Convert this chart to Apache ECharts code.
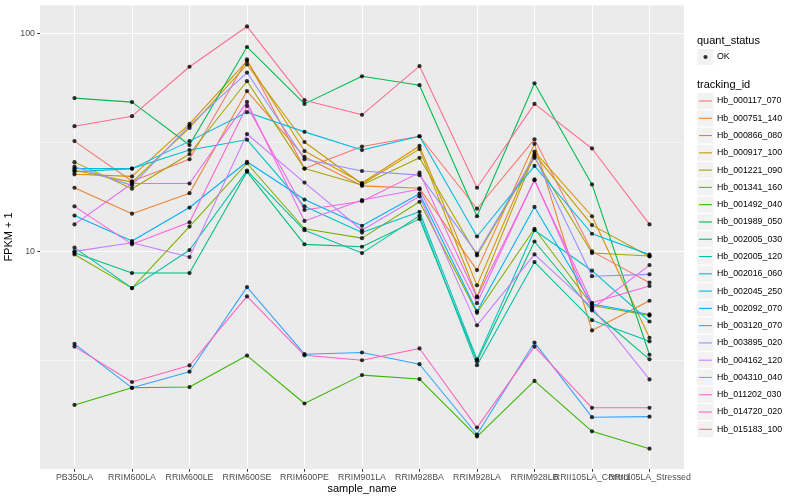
<!DOCTYPE html>
<html><head><meta charset="utf-8">
<script src="https://cdn.jsdelivr.net/npm/echarts@6/dist/echarts.min.js"></script>
<style>html,body{margin:0;padding:0;background:#fff}#c{width:800px;height:500px}</style>
</head><body><div id="c"></div>
<script>
// ---------- data ----------
const categories = ['PB350LA','RRIM600LA','RRIM600LE','RRIM600SE','RRIM600PE','RRIM901LA','RRIM928BA','RRIM928LA','RRIM928LB','RRII105LA_Control','RRII105LA_Stressed'];
const trackingIds = ['Hb_000117_070','Hb_000751_140','Hb_000866_080','Hb_000917_100','Hb_001221_090','Hb_001341_160','Hb_001492_040','Hb_001989_050','Hb_002005_030','Hb_002005_120','Hb_002016_060','Hb_002045_250','Hb_002092_070','Hb_003120_070','Hb_003895_020','Hb_004162_120','Hb_004310_040','Hb_011202_030','Hb_014720_020','Hb_015183_100'];
const Hb_000117_070 = [32.1, 21.0, 26.5, 76.2, 24.0, 30.3, 33.8, 15.7, 32.7, 10.0, 7.18];
const Hb_000751_140 = [19.6, 14.9, 18.5, 54.5, 27.2, 20.0, 19.5, 8.2, 31.2, 4.33, 5.93];
const Hb_000866_080 = [22.6, 22.1, 38.5, 74.9, 28.9, 20.6, 30.5, 6.98, 28.7, 14.5, 4.01];
const Hb_000917_100 = [23.6, 20.8, 36.9, 72.2, 31.8, 20.4, 29.5, 6.2, 27.9, 13.2, 9.48];
const Hb_001221_090 = [25.7, 19.4, 28.0, 60.5, 24.0, 20.2, 26.9, 9.58, 26.9, 9.82, 9.52];
const Hb_001341_160 = [9.68, 6.78, 13.0, 25.4, 12.7, 11.5, 16.9, 5.22, 12.7, 5.64, 5.07];
const Hb_001492_040 = [1.97, 2.36, 2.38, 3.32, 2.0, 2.70, 2.59, 1.41, 2.54, 1.49, 1.24];
const Hb_001989_050 = [50.6, 48.5, 30.8, 86.9, 47.6, 63.7, 58.0, 14.5, 59.2, 20.3, 3.35];
const Hb_002005_030 = [9.86, 7.95, 7.95, 23.2, 10.77, 10.5, 14.1, 3.13, 11.1, 5.35, 3.19];
const Hb_002005_120 = [10.4, 6.78, 10.14, 23.5, 12.5, 9.82, 14.6, 3.0, 8.93, 4.83, 3.86];
const Hb_002016_060 = [23.2, 24.0, 29.2, 32.6, 16.1, 12.2, 15.2, 3.19, 12.5, 8.15, 4.76];
const Hb_002045_250 = [24.0, 24.0, 32.1, 43.6, 35.4, 29.2, 33.8, 11.7, 24.7, 12.05, 9.66];
const Hb_002092_070 = [14.6, 11.15, 15.9, 25.8, 17.3, 13.1, 18.4, 5.31, 16.0, 5.73, 5.13];
const Hb_003120_070 = [3.76, 2.36, 2.80, 6.85, 3.37, 3.43, 3.03, 1.44, 3.81, 1.73, 1.74];
const Hb_003895_020 = [24.5, 20.1, 37.8, 66.3, 26.5, 23.4, 22.4, 9.76, 27.4, 7.69, 7.84];
const Hb_004162_120 = [10.0, 10.96, 9.41, 34.6, 20.7, 12.5, 17.9, 4.57, 9.68, 5.52, 2.58];
const Hb_004310_040 = [13.3, 20.5, 20.5, 48.6, 13.8, 17.2, 19.3, 5.78, 21.4, 5.45, 8.65];
const Hb_011202_030 = [16.1, 10.77, 13.6, 46.6, 15.5, 17.0, 23.0, 6.14, 21.2, 5.8, 6.93];
const Hb_014720_020 = [3.65, 2.51, 2.99, 6.21, 3.33, 3.16, 3.58, 1.55, 3.65, 1.91, 1.91];
const Hb_015183_100 = [37.6, 41.8, 70.5, 108, 49.5, 42.4, 71.0, 19.6, 47.6, 29.7, 13.3];
const seriesValues = [Hb_000117_070,Hb_000751_140,Hb_000866_080,Hb_000917_100,Hb_001221_090,Hb_001341_160,Hb_001492_040,Hb_001989_050,Hb_002005_030,Hb_002005_120,Hb_002016_060,Hb_002045_250,Hb_002092_070,Hb_003120_070,Hb_003895_020,Hb_004162_120,Hb_004310_040,Hb_011202_030,Hb_014720_020,Hb_015183_100];
const yMajorTicks = [10, 100];
const quantStatus = 'OK';

// ---------- style ----------
const colors = ['#F8766D','#EA8331','#D89000','#C09B00','#A3A500','#7CAE00','#39B600','#00BB4E','#00BF7D','#00C1A3','#00BFC4','#00BAE0','#00B0F6','#35A2FF','#9590FF','#C77CFF','#E76BF3','#FA62DB','#FF62BC','#FF6C91'];
const FONT = 'Liberation Sans, Arial, Helvetica, sans-serif';
const LEG_LEFT = 699, LEG_TOP = 93, LEG_STEP = 17.28, KEY = 16;

const chart = echarts.init(document.getElementById('c'), null, {renderer: 'canvas'});

const lineSeries = trackingIds.map((id, i) => ({
  type: 'line', name: id,
  data: seriesValues[i].map((v, j) => [j, v]),
  showSymbol: false, symbol: 'none',
  lineStyle: {color: colors[i], width: 1.07},
  itemStyle: {color: colors[i]},
  silent: true, z: 2, animation: false
}));
const points = [];
seriesValues.forEach(vals => vals.forEach((v, j) => points.push([j, v])));
const pointSeries = {
  type: 'scatter', name: quantStatus, data: points,
  symbol: 'circle', symbolSize: 4.2,
  itemStyle: {color: '#000'}, silent: true, z: 3, animation: false
};

const lineIcon = 'path://M0 0M0 7.45h13v1.1h-13zM13 16';
const dotIcon = 'path://M0 0M4.4 8a2.1 2.1 0 1 0 4.2 0a2.1 2.1 0 1 0 -4.2 0zM13 16';

const keyBoxes = [];
keyBoxes.push({type: 'rect', shape: {x: 697.3, y: 49, width: KEY, height: KEY}, style: {fill: '#F2F2F2'}, z: 0, silent: true});
trackingIds.forEach((id, k) => {
  keyBoxes.push({type: 'rect', shape: {x: 697.3, y: LEG_TOP + k * LEG_STEP, width: KEY, height: KEY}, style: {fill: '#F2F2F2'}, z: 0, silent: true});
});
keyBoxes.push({type: 'text', x: 697, y: 40.7, style: {text: 'quant_status', fontSize: 11, fontFamily: FONT, fill: '#000', verticalAlign: 'middle'}, z: 1});
keyBoxes.push({type: 'text', x: 697, y: 84.5, style: {text: 'tracking_id', fontSize: 11, fontFamily: FONT, fill: '#000', verticalAlign: 'middle'}, z: 1});

const catIdx = categories.map((c, i) => i);
const evenIdx = catIdx.filter(i => i % 2 === 0);
const oddIdx = catIdx.filter(i => i % 2 === 1);
const labelStyle = {fontSize: 8.8, fontFamily: FONT, color: '#4D4D4D', margin: 4, hideOverlap: false, formatter: v => categories[Math.round(v)] || ''};
const option = {
  animation: false,
  backgroundColor: '#fff',
  grid: {left: 40, top: 5, right: 116, bottom: 31, show: true, backgroundColor: '#EBEBEB', borderWidth: 0, outerBoundsMode: 'none', containLabel: false},
  xAxis: [{
    type: 'value', min: -0.6, max: 10.6,
    name: 'sample_name', nameLocation: 'middle', nameGap: 14, nameMoveOverlap: false,
    nameTextStyle: {fontSize: 11, fontFamily: FONT, color: '#000', verticalAlign: 'top'},
    axisLine: {show: false, onZero: false},
    axisTick: {show: true, length: 2.7, lineStyle: {color: '#333', width: 1}, customValues: catIdx},
    axisLabel: Object.assign({customValues: evenIdx}, labelStyle),
    splitLine: {show: true, lineStyle: {color: '#fff', width: 1.07}}
  }, {
    type: 'value', min: -0.6, max: 10.6, position: 'bottom',
    axisLine: {show: false, onZero: false},
    axisTick: {show: false},
    axisLabel: Object.assign({customValues: oddIdx}, labelStyle),
    splitLine: {show: false}
  }],
  yAxis: [{
    type: 'log', logBase: 10, min: 1, max: 135.5, interval: 1,
    name: 'FPKM + 1', nameLocation: 'middle', nameGap: 26, nameMoveOverlap: false,
    nameTextStyle: {fontSize: 11, fontFamily: FONT, color: '#000'},
    axisLine: {show: false, onZero: false},
    axisTick: {show: true, length: 2.7, lineStyle: {color: '#333', width: 1}, customValues: yMajorTicks},
    axisLabel: {
      customValues: yMajorTicks,
      formatter: v => { const e = Math.log10(v); const r = Math.round(e); return (Math.abs(e - r) < 1e-6) ? String(Math.pow(10, r)) : ''; },
      fontSize: 8.8, fontFamily: FONT, color: '#4D4D4D', margin: 5
    },
    splitLine: {show: true, lineStyle: {color: '#fff', width: 1.07}}
  }, {
    type: 'log', logBase: 10, min: 1, max: 135.5, interval: 0.5, position: 'left',
    axisLine: {show: false, onZero: false}, axisTick: {show: false}, axisLabel: {show: false},
    splitLine: {show: true, lineStyle: {color: '#fff', width: 0.53}}
  }],
  legend: [{
    orient: 'vertical', left: LEG_LEFT, top: 49, padding: 0,
    itemWidth: 13, itemHeight: KEY, selectedMode: false,
    itemStyle: {borderWidth: 0},
    textStyle: {fontSize: 8.8, fontFamily: FONT, color: '#000'},
    data: [{name: quantStatus, icon: dotIcon, itemStyle: {color: '#000'}}]
  }, {
    orient: 'vertical', left: LEG_LEFT, top: LEG_TOP, padding: 0,
    itemWidth: 13, itemHeight: KEY, itemGap: LEG_STEP - KEY, selectedMode: false,
    itemStyle: {borderWidth: 0}, lineStyle: {width: 0},
    textStyle: {fontSize: 8.8, fontFamily: FONT, color: '#000'},
    data: trackingIds.map((id, i) => ({name: id, icon: lineIcon, itemStyle: {color: colors[i], borderWidth: 0}}))
  }],
  graphic: keyBoxes,
  series: lineSeries.concat([pointSeries])
};
chart.setOption(option);
</script></body></html>
